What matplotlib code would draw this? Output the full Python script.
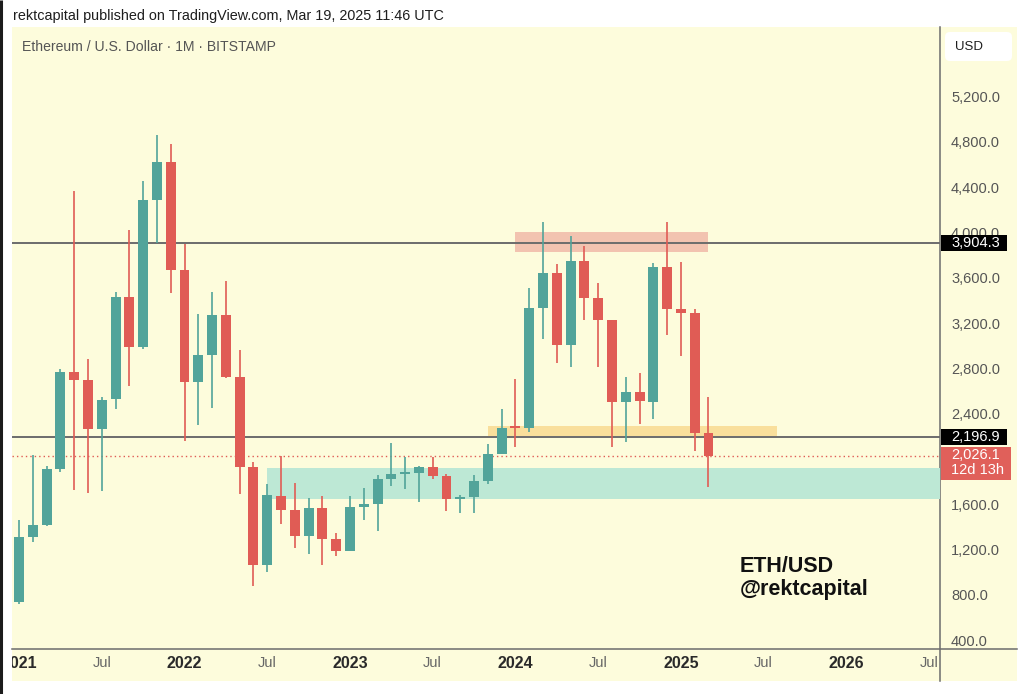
import matplotlib
matplotlib.use('Agg')
import matplotlib.pyplot as plt
from matplotlib.patches import Rectangle, FancyBboxPatch
from matplotlib import font_manager as fm
from matplotlib.transforms import Bbox, blended_transform_factory
import numpy as np
import pandas as pd

# ---------------- data (monthly ETH/USD, Bitstamp) ----------------
opens = [737, 1312, 1418, 1915, 2770, 2700, 2268, 2525, 3427, 2990, 4285, 4618,
         3668, 2681, 2916, 3270, 2722, 1931, 1062, 1672, 1548, 1321, 1563, 1289,
         1189, 1577, 1598, 1819, 1869, 1874, 1925, 1848, 1645, 1665, 1807, 2042,
         2285, 2275, 3334, 3638, 3005, 3749, 3423, 3226, 2505, 2593, 2505, 3697,
         3323, 3290, 2231]
highs = [1460, 2035, 1940, 2795, 4367, 2885, 2548, 3470, 4020, 4453, 4860, 4777,
         3897, 3276, 3476, 3570, 2960, 1970, 1777, 2025, 1784, 1657, 1672, 1348,
         1674, 1740, 1857, 2137, 2019, 1936, 2019, 1863, 1686, 1857, 2131, 2437,
         2705, 3511, 4088, 3717, 3967, 3879, 3550, 3226, 2720, 2755, 3732, 4094,
         3735, 3320, 2543]
lows = [715, 1270, 1410, 1885, 1725, 1700, 1718, 2437, 2643, 2967, 3903, 3462,
        2160, 2298, 2446, 2716, 1695, 879, 998, 1422, 1215, 1157, 1068, 1145,
        1185, 1460, 1365, 1760, 1733, 1616, 1819, 1539, 1527, 1519, 1775, 2040,
        2102, 2240, 3055, 2843, 2813, 3226, 2808, 2107, 2146, 2307, 2351, 3093,
        2911, 2071, 1754]
closes = [1312, 1418, 1915, 2770, 2700, 2265, 2520, 3427, 2990, 4285, 4620, 3668,
          2681, 2916, 3270, 2722, 1931, 1062, 1678, 1548, 1321, 1563, 1289, 1189,
          1577, 1598, 1819, 1869, 1874, 1925, 1848, 1645, 1665, 1807, 2042, 2269,
          2275, 3334, 3638, 3005, 3749, 3423, 3226, 2505, 2593, 2511, 3697, 3323,
          3290, 2225, 2026.1]
months = pd.date_range('2021-01-01', periods=len(closes), freq='MS')

# horizontal levels and zones (price bounds, start/end bar index)
levels = [3904.3, 2196.9]
last_price = 2026.1
timer_text = '12d 13h'
zone_red = (3825, 4000, 36, 50)
zone_orange = (2202, 2293, 34, 55)
zone_teal = (1646, 1917, 18, 70)

xtick_pos = [0, 6, 12, 18, 24, 30, 36, 42, 48, 54, 60, 66]
xtick_labels = ['2021', 'Jul', '2022', 'Jul', '2023', 'Jul', '2024', 'Jul',
                '2025', 'Jul', '2026', 'Jul']
# the 2,000.0 label is hidden behind the last-price tag in the reference
yticks = [400, 800, 1200, 1600, 2400, 2800, 3200, 3600, 4000, 4400, 4800, 5200]

header = 'rektcapital published on TradingView.com, Mar 19, 2025 11:46 UTC'
legend_text = 'Ethereum / U.S. Dollar \u00b7 1M \u00b7 BITSTAMP'

# ---------------- style ----------------
PANEL = '#FDFCDC'
UP = '#52A49A'
DOWN = '#E05C55'
LINE = '#6c6c6c'

plt.rcParams['font.family'] = ['Liberation Sans', 'DejaVu Sans']
names = {f.name for f in fm.fontManager.ttflist}
NARROW = 'Liberation Sans Narrow' if 'Liberation Sans Narrow' in names else 'Liberation Sans'

W, H = 1024, 694
fig = plt.figure(figsize=(W / 100, H / 100), dpi=100)
fig.patch.set_facecolor('white')

# background / layout layer in pixel coordinates
bg = fig.add_axes([0, 0, 1, 1], zorder=0)
bg.set_xlim(0, W)
bg.set_ylim(H, 0)
bg.axis('off')
bg.add_patch(Rectangle((12, 27), 1005, 654, facecolor=PANEL, edgecolor='none'))
bg.plot([1.2, 1.2], [0, H], color='#1c1c1c', lw=2.2, solid_capstyle='butt')
bg.plot([940, 940], [27, 681], color=LINE, lw=1.1)
bg.plot([12, 1017], [649, 649], color=LINE, lw=1.1)
bg.text(13, 16, header, fontsize=10.4, color='#1e1e1e', va='center', ha='left')
bg.text(22, 47, legend_text, fontsize=10.1, color='#555555', va='center', ha='left')
bg.add_patch(FancyBboxPatch((945, 32), 67, 29, boxstyle='round,pad=0,rounding_size=5',
                            facecolor='white', edgecolor='none'))
bg.text(955, 46.5, 'USD', fontsize=9.5, color='#1e1e1e', va='center', ha='left')
bg.text(740, 567, 'ETH/USD', fontsize=15.5, fontweight='bold', color='#111111',
        va='center', ha='left')
bg.text(740, 589, '@rektcapital', fontsize=15.5, fontweight='bold', color='#111111',
        va='center', ha='left')

# main chart
ax = fig.add_axes([12 / W, (H - 649) / H, 928 / W, 622 / H], zorder=1)
ax.set_facecolor('none')
YMIN, YMAX = 322, 5814
ax.set_xlim(-0.51, 66.79)
ax.set_ylim(YMIN, YMAX)
for s in ax.spines.values():
    s.set_visible(False)
px = (YMAX - YMIN) / 622.0  # price units per pixel

for lo, hi, x0, x1, col in [(*zone_red, '#F2C3B0'), (*zone_orange, '#F9DF9C'),
                            (*zone_teal, '#BDE8D5')]:
    ax.add_patch(Rectangle((x0, lo), x1 - x0, hi - lo, facecolor=col,
                           edgecolor='none', zorder=1))

for lv in levels:
    ax.axhline(lv, color=LINE, lw=1.4, zorder=2)
ax.axhline(last_price, color=DOWN, lw=1.0, ls=(0, (1, 2.2)), zorder=2)

o = np.array(opens, float)
h = np.array(highs, float)
l = np.array(lows, float)
c = np.array(closes, float)
x = np.arange(len(c))
cols = [UP if cc >= oo else DOWN for oo, cc in zip(o, c)]
ax.vlines(x, l, h, colors=cols, lw=1.2, zorder=3)
body = np.maximum(np.abs(c - o), 1.6 * px)
ax.bar(x, body, bottom=np.minimum(o, c), width=0.72, color=cols, linewidth=0, zorder=4)

# axes ticks
ax.yaxis.tick_right()
ax.set_yticks(yticks, [f'{v:,.1f}' for v in yticks])
ax.tick_params(axis='y', length=0, pad=11 * 0.72, labelsize=10.5, labelcolor='#555555')
ax.set_xticks(xtick_pos, xtick_labels)
ax.tick_params(axis='x', length=0, pad=5.0, labelsize=11.5)
clipbox = Bbox.from_extents(12, 0, 938, H)
for t in ax.xaxis.get_major_ticks():
    lab = t.label1
    lab.set_fontfamily([NARROW, 'DejaVu Sans'])
    if lab.get_text() == 'Jul':
        lab.set_color('#666666')
        lab.set_fontsize(10.5)
    else:
        lab.set_color('#2a2a2a')
        lab.set_fontweight('bold')
    lab.set_clip_on(True)
    lab.set_clip_box(clipbox)

# price labels on the right scale
tr = blended_transform_factory(ax.transAxes, ax.transData)
bx0 = (941 - 12) / 928
tx = (951 - 12) / 928
for lv in levels:
    ax.add_patch(Rectangle((bx0, lv - 8 * px), 66 / 928, 16 * px, transform=tr,
                           facecolor='black', edgecolor='none', clip_on=False, zorder=6))
    ax.text(tx, lv, f'{lv:,.1f}', transform=tr, color='white', fontsize=10.5,
            va='center', ha='left', clip_on=False, zorder=7)
box_top = last_price + 9.5 * px
ax.add_patch(Rectangle((bx0, box_top - 33 * px), 70 / 928, 33 * px, transform=tr,
                       facecolor='#E0605A', edgecolor='none', clip_on=False, zorder=6))
ax.text(tx, box_top - 1.0 * px, f'{last_price:,.1f}\n{timer_text}', transform=tr,
        color='white', fontsize=10.5, linespacing=1.1,
        va='top', ha='left', clip_on=False, zorder=7)

fig.savefig('out.png', dpi=100, facecolor='white')
